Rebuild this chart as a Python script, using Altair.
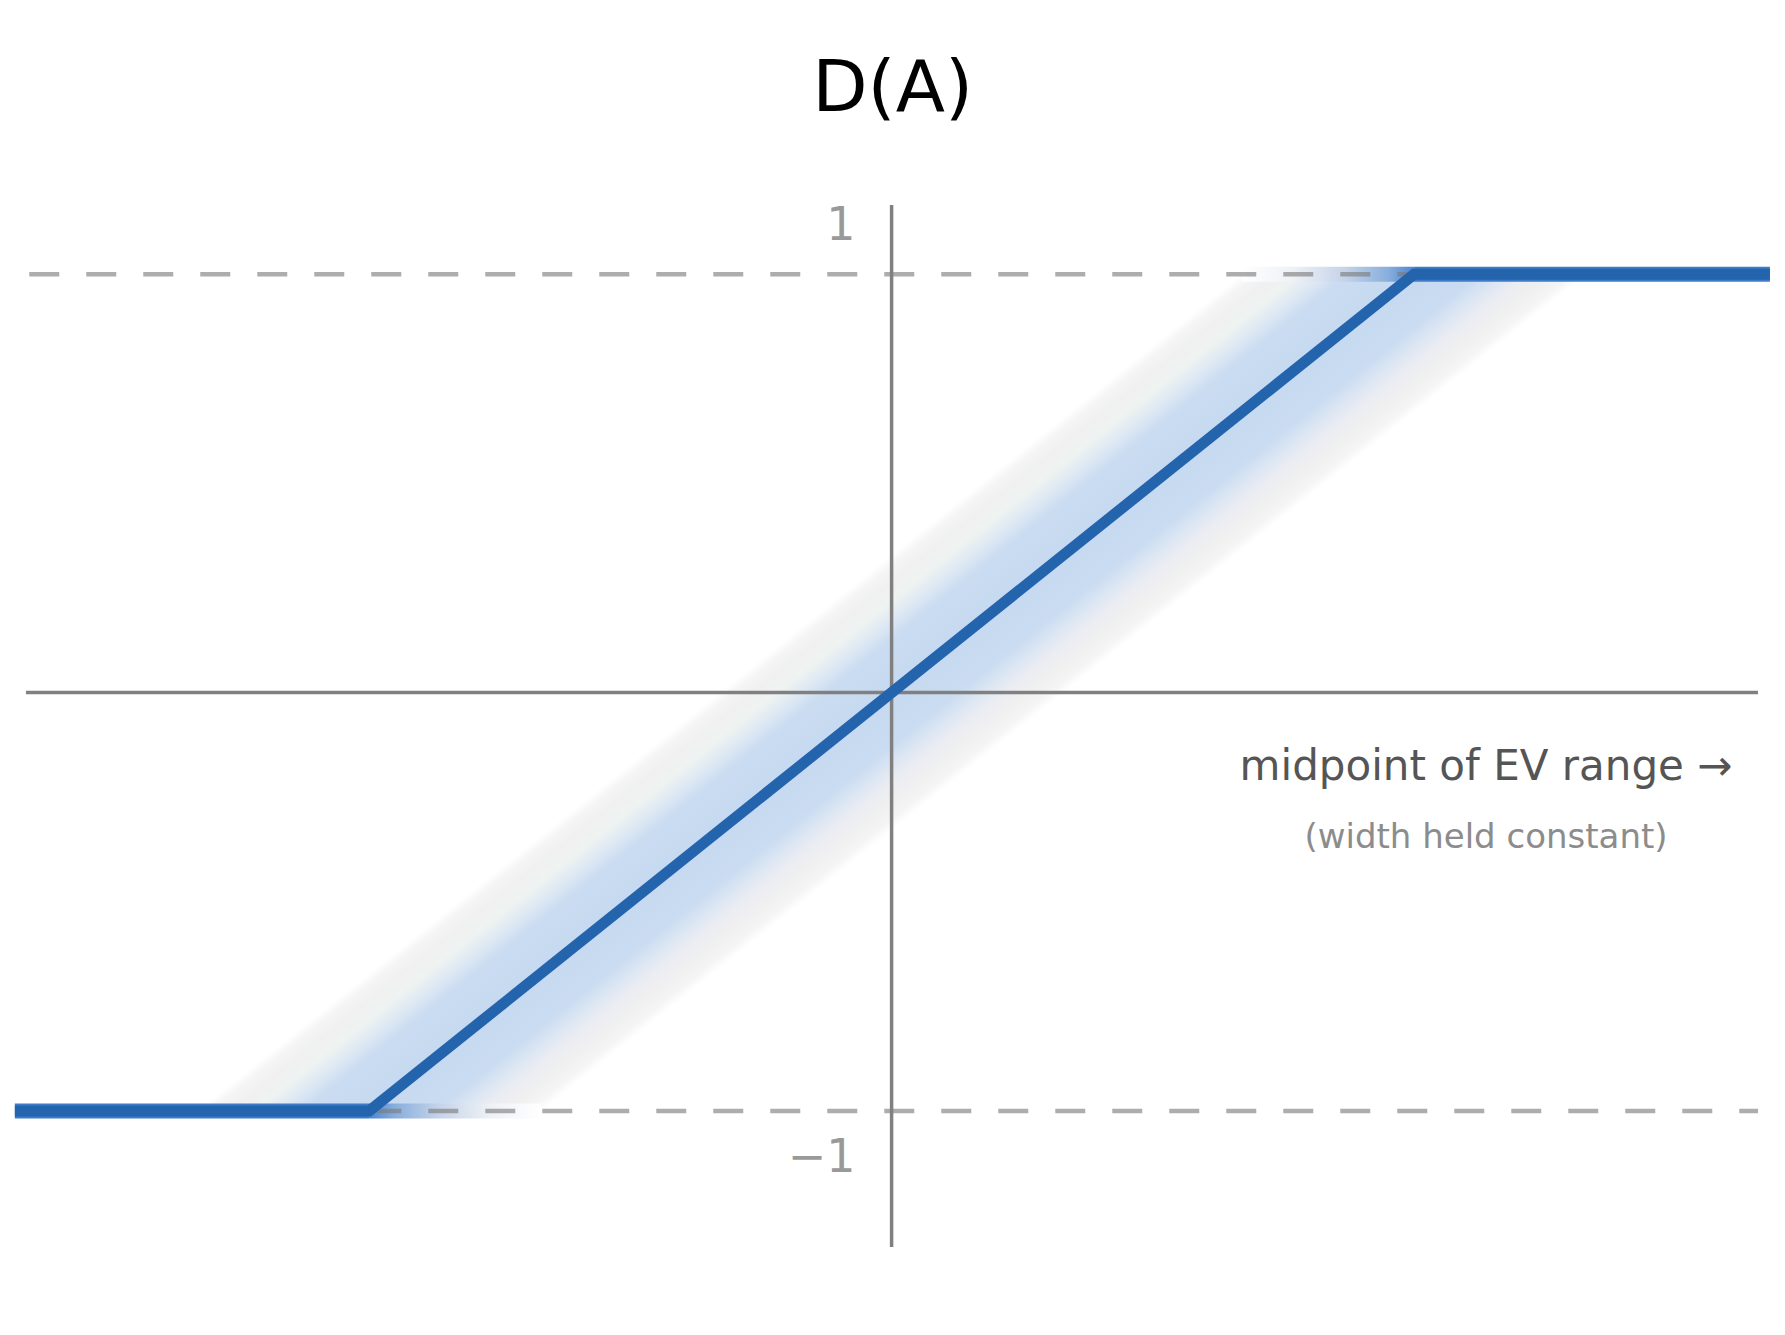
import math
import altair as alt
import pandas as pd

# ---------------- data ----------------
line_x = [-1.678, -1.0, 1.0, 1.681]      # clamp curve: flat, ramp, flat
line_y = [-1.0, -1.0, 1.0, 1.0]
level_values = [1, -1]                    # dashed saturation levels
level_labels = ["1", "\u22121"]
title_text = "D(A)"
note_main = "midpoint of EV range \u2192"
note_sub = "(width held constant)"

# ---------------- layout / style ----------------
PX_PER_X = 522.5
PX_PER_Y = 418.4
ORIGIN = (891.6, 692.6)          # page pixel of (0, 0)
W, H = 1765, 1292
XMIN = -(ORIGIN[0] - 8) / PX_PER_X
XMAX = XMIN + W / PX_PER_X
YMAX = (ORIGIN[1] - 8) / PX_PER_Y
YMIN = YMAX - H / PX_PER_Y

HALF = 0.33                      # half width of the uncertainty band (x units)
STRIP_HALF = 7.5 / PX_PER_Y      # half height of the wash strips
AX_H = (-1.6567, 1.6582)
AX_V = (-1.325, 1.1654)
DASH_X = (-1.6504, 1.6582)
FONT = "DejaVu Sans"

xs = alt.Scale(domain=[XMIN, XMAX], nice=False, zero=False)
ys = alt.Scale(domain=[YMIN, YMAX], nice=False, zero=False)

def X(field=None, datum=None):
    if datum is not None:
        return alt.X(datum=datum, scale=xs, axis=None)
    return alt.X(field, type="quantitative", scale=xs, axis=None)

def Y(field=None, datum=None):
    if datum is not None:
        return alt.Y(datum=datum, scale=ys, axis=None)
    return alt.Y(field, type="quantitative", scale=ys, axis=None)

one = pd.DataFrame({"k": [0]})

# ---- band (parallelogram around the ramp) with a gradient across it ----
c1, c2 = line_x[1], line_x[2]
y1, y2 = line_y[1], line_y[2]
band_df = pd.DataFrame({"y": [y1, y2], "c": [c1, c2]})
width_d = (c2 - c1) + 2 * HALF
dxn = (c2 - c1) / width_d
nl = math.hypot(1.0, dxn)
nx, ny = 1.0 / nl, dxn / nl
proj = (HALF / width_d) * nx
gx1, gy1 = 0.5 - proj * nx, 0.5 - proj * ny
gx2, gy2 = 0.5 + proj * nx, 0.5 + proj * ny

band_stops = [
    (0.00, "#ffffff"), (0.04, "#f5f5f5"), (0.10, "#f0f0f0"), (0.17, "#eef3f1"),
    (0.24, "#dde8f4"), (0.31, "#cadcf1"), (0.50, "#c5d9f0"), (0.69, "#cadcf1"),
    (0.76, "#dce6f3"), (0.83, "#ecedf2"), (0.90, "#f0f0f0"), (0.96, "#f5f5f5"),
    (1.00, "#ffffff"),
]
band_grad = alt.Gradient(
    gradient="linear",
    stops=[alt.GradientStop(offset=o, color=c) for o, c in band_stops],
    x1=gx1, y1=gy1, x2=gx2, y2=gy2,
)
band = (
    alt.Chart(band_df)
    .transform_calculate(lo=f"datum.c - {HALF}", hi=f"datum.c + {HALF}")
    .mark_area(orient="horizontal", color=band_grad)
    .encode(y=Y("y"), x=X("lo"), x2=alt.X2("hi"))
)

# ---- wash strips along the saturation levels next to the knees ----
wash_stops_in = [(0.0, "#ffffff"), (0.3, "#eef1f6"), (0.6, "#c4d3e9"),
                 (0.85, "#88aedd"), (1.0, "#4c85d1")]
wash_top = (
    alt.Chart(pd.DataFrame({"a": [c2 - HALF], "b": [c2], "y": [y2]}))
    .transform_calculate(t=f"datum.y + {STRIP_HALF}", u=f"datum.y - {STRIP_HALF}")
    .mark_rect(color=alt.Gradient(gradient="linear", x1=0, y1=0, x2=1, y2=0,
               stops=[alt.GradientStop(offset=o, color=c) for o, c in wash_stops_in]))
    .encode(x=X("a"), x2=alt.X2("b"), y=Y("t"), y2=alt.Y2("u"))
)
wash_bot = (
    alt.Chart(pd.DataFrame({"a": [c1], "b": [c1 + HALF], "y": [y1]}))
    .transform_calculate(t=f"datum.y + {STRIP_HALF}", u=f"datum.y - {STRIP_HALF}")
    .mark_rect(color=alt.Gradient(gradient="linear", x1=1, y1=0, x2=0, y2=0,
               stops=[alt.GradientStop(offset=o, color=c) for o, c in wash_stops_in]))
    .encode(x=X("a"), x2=alt.X2("b"), y=Y("t"), y2=alt.Y2("u"))
)

# ---- flat-segment underlay (lighter, wider) ----
flat_df = pd.DataFrame({"a": [line_x[0], line_x[2]], "b": [line_x[1], line_x[3]],
                        "y": [line_y[0], line_y[3]]})
flat = (
    alt.Chart(flat_df)
    .mark_rule(color="#3d7cc9", strokeWidth=15)
    .encode(x=X("a"), x2=alt.X2("b"), y=Y("y"))
)

# ---- dashed level lines ----
levels = pd.DataFrame({"v": level_values, "t": level_labels})
dashes = (
    alt.Chart(levels)
    .mark_rule(color="#7a7a7a", opacity=0.62, strokeWidth=4.5, strokeDash=[30, 27])
    .encode(y=Y("v"), x=X(datum=DASH_X[0]), x2=alt.X2(datum=DASH_X[1]))
)

# ---- axes lines ----
h_axis = (
    alt.Chart(one).mark_rule(color="#808080", strokeWidth=3.5)
    .encode(y=Y(datum=0), x=X(datum=AX_H[0]), x2=alt.X2(datum=AX_H[1]))
)
v_axis = (
    alt.Chart(one).mark_rule(color="#808080", strokeWidth=3.5)
    .encode(x=X(datum=0), y=Y(datum=AX_V[0]), y2=alt.Y2(datum=AX_V[1]))
)

# ---- main clamp line ----
main_df = pd.DataFrame({"x": line_x, "y": line_y, "o": list(range(len(line_x)))})
main = (
    alt.Chart(main_df)
    .mark_line(color="#2364ad", strokeWidth=11, strokeJoin="miter", strokeCap="butt")
    .encode(x=X("x"), y=Y("y"), order="o:Q")
)

# ---- texts ----
lab_top = (
    alt.Chart(levels).transform_filter("datum.v > 0")
    .mark_text(align="right", baseline="alphabetic", dx=-36, dy=-34,
               fontSize=46, font=FONT, color="#999999")
    .encode(x=X(datum=0), y=Y("v"), text="t:N")
)
lab_bot = (
    alt.Chart(levels).transform_filter("datum.v < 0")
    .mark_text(align="right", baseline="alphabetic", dx=-36, dy=61,
               fontSize=46, font=FONT, color="#999999")
    .encode(x=X(datum=0), y=Y("v"), text="t:N")
)
title = (
    alt.Chart(one)
    .mark_text(align="center", baseline="alphabetic", fontSize=72, font=FONT,
               color="#000000", dx=1)
    .encode(x=X(datum=0), y=Y(datum=(ORIGIN[1] - 110.7) / PX_PER_Y),
            text=alt.value(title_text))
)
note1 = (
    alt.Chart(one)
    .mark_text(align="center", baseline="alphabetic", fontSize=42, font=FONT,
               color="#555555")
    .encode(x=X(datum=(1486 - ORIGIN[0]) / PX_PER_X),
            y=Y(datum=(ORIGIN[1] - 780) / PX_PER_Y), text=alt.value(note_main))
)
note2 = (
    alt.Chart(one)
    .mark_text(align="center", baseline="alphabetic", fontSize=34, font=FONT,
               color="#8c8c8c")
    .encode(x=X(datum=(1486 - ORIGIN[0]) / PX_PER_X),
            y=Y(datum=(ORIGIN[1] - 848) / PX_PER_Y), text=alt.value(note_sub))
)

chart = (
    alt.layer(band, wash_top, wash_bot, flat, dashes, h_axis, v_axis, main,
              lab_top, lab_bot, title, note1, note2)
    .properties(width=W, height=H, autosize="none", padding=0)
    .configure_view(stroke=None)
)

chart.save("out.html", embed_options={"renderer": "svg", "actions": False})
